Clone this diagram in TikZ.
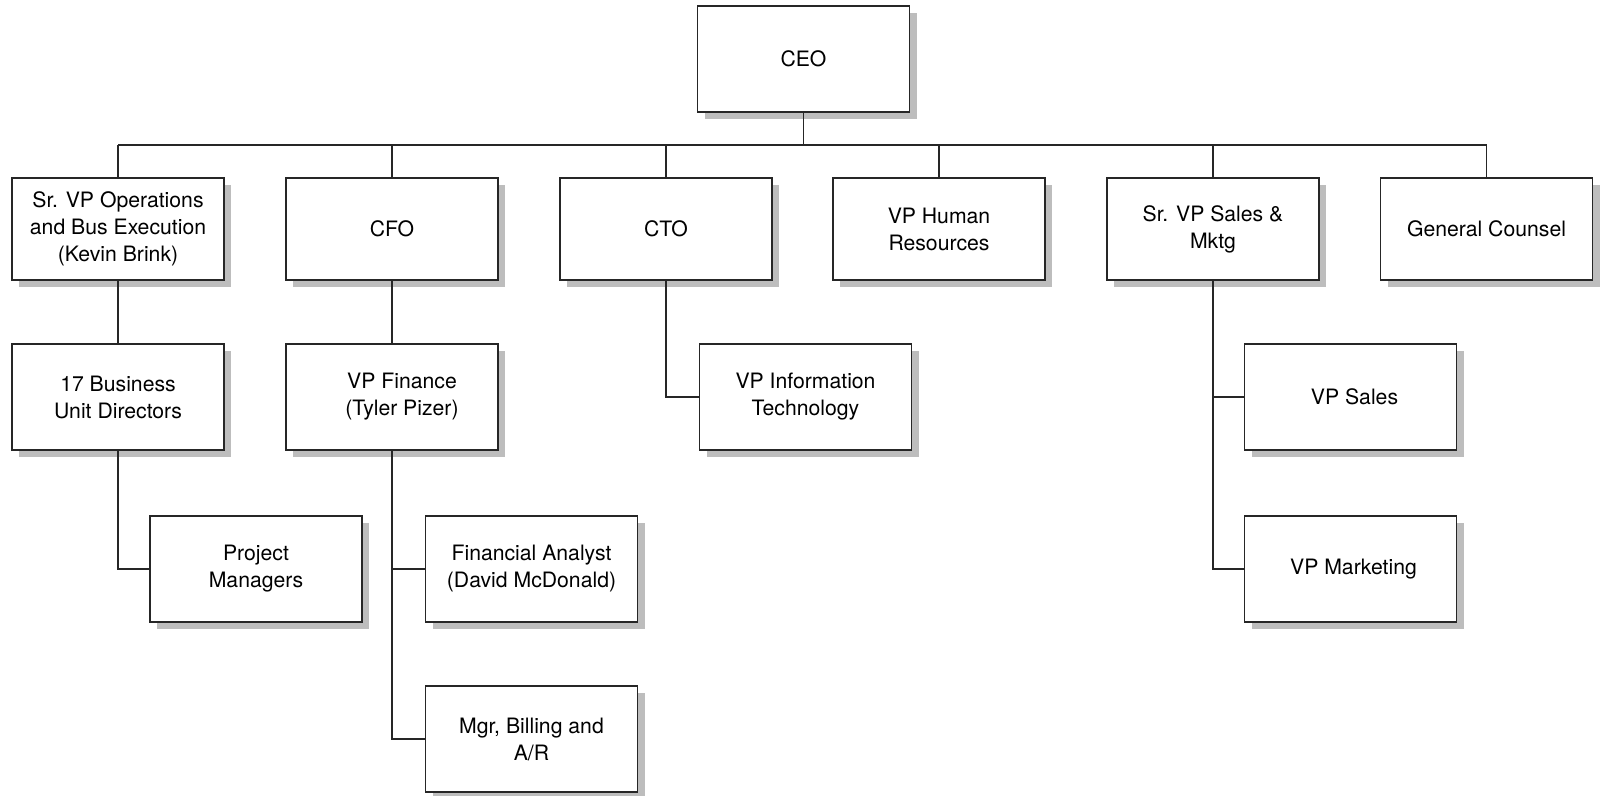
\documentclass[tikz,border=0pt]{standalone}
\usepackage{fontspec}
\setmainfont{TeX Gyre Heros}
\usetikzlibrary{shadows}

\tikzset{
  orgbox/.style={draw=black!85, line width=0.7pt, fill=white,
    minimum width=106pt, minimum height=53pt, inner sep=0pt,
    align=center, font=\fontsize{10.6}{13.5}\selectfont,
    drop shadow={shadow xshift=3.5pt, shadow yshift=-3.5pt,
                 fill=black!26, opacity=1}},
  toprow/.style={orgbox, minimum height=51pt},
  link/.style={draw=black!85, line width=0.7pt}
}

\begin{document}
\begin{tikzpicture}[x=0.5pt, y=-0.5pt]
  \useasboundingbox (0,0) rectangle (1601,796);

  % top
  \node[orgbox] (ceo) at (803.5,59) {CEO};

  % first level
  \node[toprow] (ops)   at (118,229)    {Sr. VP Operations\\and Bus Execution\\(Kevin Brink)};
  \node[toprow] (cfo)   at (392,229)    {CFO};
  \node[toprow] (cto)   at (666,229)    {CTO};
  \node[toprow] (hr)    at (939,229)    {VP Human\\Resources};
  \node[toprow] (sales) at (1213,229)   {Sr. VP Sales \&\\Mktg};
  \node[toprow] (gc)    at (1486.5,229) {General Counsel};

  % second level
  \node[orgbox] (bu)   at (118,397)    {17 Business\\Unit Directors};
  \node[orgbox] (vpf)  at (392,397)    {\hspace*{10pt}VP Finance\\\hspace*{10pt}(Tyler Pizer)};
  \node[orgbox] (vpit) at (805.5,397)  {VP Information\\Technology};
  \node[orgbox] (vps)  at (1350.5,397) {\hspace*{4pt}VP Sales};

  % third level
  \node[orgbox] (pm)  at (256,569)    {Project\\Managers};
  \node[orgbox] (fa)  at (531.5,569)  {Financial Analyst\\(David McDonald)};
  \node[orgbox] (vpm) at (1350.5,569) {\hspace*{3pt}VP Marketing};

  % fourth level
  \node[orgbox] (mgr) at (531.5,739) {Mgr, Billing and\\A/R};

  % horizontal bus under the CEO
  \coordinate (bus) at (0,145);

  \path[link] (ceo.south) -- (ceo.south |- bus);
  \path[link] (ops.north |- bus) -- (gc.north |- bus);
  \foreach \n in {ops,cfo,cto,hr,sales,gc}
    \path[link] (\n.north |- bus) -- (\n.north);

  % branches
  \path[link] (ops.south) -- (bu.north);
  \path[link] (bu.south) |- (pm.west);
  \path[link] (cfo.south) -- (vpf.north);
  \path[link] (vpf.south) |- (fa.west);
  \path[link] (vpf.south) |- (mgr.west);
  \path[link] (cto.south) |- (vpit.west);
  \path[link] (sales.south) |- (vps.west);
  \path[link] (sales.south) |- (vpm.west);
\end{tikzpicture}
\end{document}
